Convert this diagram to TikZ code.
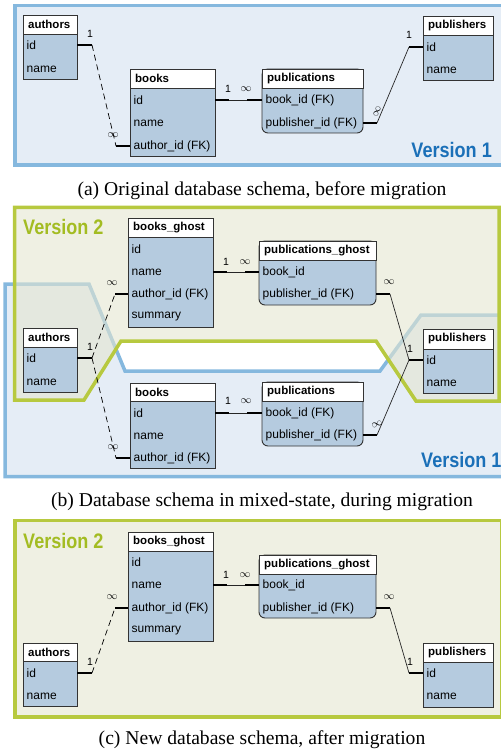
\documentclass[tikz,border=0pt]{standalone}
\usepackage{fontspec}
\setmainfont{Liberation Serif}
\newfontfamily\sansf{Liberation Sans}
\newfontfamily\condf[FakeStretch=0.86]{Liberation Sans}
\usetikzlibrary{calc}
\definecolor{bfill}{HTML}{E5EDF6}
\definecolor{bline}{HTML}{85B8DE}
\definecolor{gfill}{HTML}{EFF0E3}
\definecolor{gfillb}{HTML}{E4E6D0}
\definecolor{gline}{HTML}{B7C93F}
\definecolor{gtext}{HTML}{A3BC22}
\definecolor{btext}{HTML}{1B70B8}
\definecolor{tfill}{HTML}{B5CBDF}
\definecolor{tborder}{HTML}{333333}
\tikzset{
 tbody/.style={draw=tborder, fill=tfill, line width=0.9pt, inner sep=0pt, outer sep=0pt, anchor=north west},
 thead/.style={draw=tborder, fill=white, line width=0.9pt, inner sep=0pt, outer sep=0pt, anchor=north west},
 htext/.style={font=\sansf\bfseries\fontsize{11.5}{13}\selectfont, anchor=west, inner sep=0pt},
 rtext/.style={font=\sansf\fontsize{12}{14}\selectfont, anchor=west, inner sep=0pt},
 stub/.style={line width=2.8pt, line cap=butt},
 rel/.style={line width=0.7pt, draw=black!85},
 drel/.style={line width=0.7pt, dash pattern=on 6pt off 4pt},
 card/.style={font=\sansf\fontsize{10.5}{12}\selectfont, inner sep=0pt},
 captxt/.style={font=\fontsize{19.6}{22}\selectfont, inner sep=0pt},
 vlab/.style={font=\condf\bfseries\fontsize{21}{24}\selectfont, inner sep=0pt},
 frameb/.style={line width=3.5pt, draw=bline, fill=bfill},
 frameg/.style={line width=3.5pt, draw=gline, fill=gfill},
 rnd/.style={rounded corners=6pt}
}
% #1 name, #2 x1, #3 x2, #4 header top, #5 header bottom, #6 body bottom, #7 title, #8 body style
\newcommand{\dbtab}[8]{%
 \node[tbody,#8,minimum width={(#3-#2)*1pt},minimum height={(#6-#4)*1pt}] (#1-b) at (#2,#4) {};
 \node[thead,minimum width={(#3-#2)*1pt},minimum height={(#5-#4)*1pt}] (#1-h) at (#2,#4) {};
 \node[htext] (#1-t) at ({#2+5},{(#4+#5)/2}) {#7};
}
% #1 node name, #2 x1, #3 y, #4 text
\newcommand{\dbrow}[4]{\node[rtext] (#1) at ({#2+3.5},#3) {#4};}
\begin{document}
\begin{tikzpicture}[x=1pt,y=-1pt]
\useasboundingbox (0,0) rectangle (500,751);
% ================= (a) =================
\draw[frameb] (15,5.5) rectangle (508,165);
\node[vlab, text=btext, anchor=east] (a-v1) at (492,149.5) {Version 1};
\node[captxt] (a-cap) at (262,191) {(a) Original database schema, before migration};
% connectors
\coordinate (a-c1) at (92,45); \coordinate (a-c2) at (116,146);
\coordinate (a-c3) at (229,100); \coordinate (a-c4) at (247,100);
\coordinate (a-c5) at (377,123); \coordinate (a-c6) at (409,47);
% tables
\dbtab{a-au}{23}{77}{15}{34}{79}{authors}{}
\dbrow{a-au-id}{23}{45}{id}
\dbrow{a-au-nm}{23}{69}{name}
\dbtab{a-bk}{130}{215}{69}{88}{156}{books}{}
\dbrow{a-bk-id}{130}{100}{id}
\dbrow{a-bk-nm}{130}{123}{name}
\dbrow{a-bk-ai}{130}{146}{author\_id (FK)}
\dbtab{a-pu}{262}{363}{69}{88}{133}{publications}{rnd}
\dbrow{a-pu-bi}{262}{100}{book\_id (FK)}
\dbrow{a-pu-pi}{262}{123}{publisher\_id (FK)}
\dbtab{a-pb}{423}{493}{16}{35}{80}{publishers}{}
\dbrow{a-pb-id}{423}{47}{id}
\dbrow{a-pb-nm}{423}{70}{name}
\draw[stub] (a-au-b.east |- a-au-id) -- (a-c1);
\draw[drel] (a-c1) -- (a-c2);
\draw[stub] (a-c2) -- (a-bk-b.west |- a-bk-ai);
\draw[stub] (a-bk-b.east |- a-bk-id) -- (a-c3);
\draw[rel] (a-c3) -- (a-c4);
\draw[stub] (a-c4) -- (a-pu-b.west |- a-pu-bi);
\draw[stub] (a-pu-b.east |- a-pu-pi) -- (a-c5);
\draw[rel] (a-c5) -- (a-c6);
\draw[stub] (a-c6) -- (a-pb-b.west |- a-pb-id);
\node[card] (a-l1) at (90,34) {1};
\node[card] (a-l2) at (113,135) {$\infty$};
\node[card] (a-l3) at (228,89) {1};
\node[card] (a-l4) at (246,89) {$\infty$};
\node[card] (a-l5) at (409,35) {1};
\node[card, rotate=67] (a-l6) at (377,112) {$\infty$};
% ================= (b) =================
\draw[frameb] (5,284) -- (89,284) -- (125,371) -- (380,371) -- (421,315) -- (508,315) -- (508,476.5) -- (5,476.5) -- cycle;
\draw[line width=3.5pt, draw=gline, fill=gfillb, fill opacity=0.6] (14.5,207.5) -- (499,207.5) -- (499,401) -- (416,401) -- (376,341) -- (121,341) -- (84,400) -- (14.5,400) -- cycle;
\node[vlab, text=gtext, anchor=west] (b-v2) at (23,226.5) {Version 2};
\node[vlab, text=btext, anchor=west] (b-v1) at (421,459.5) {Version 1};
\node[captxt] (b-cap) at (262,502) {(b) Database schema in mixed-state, during migration};
\coordinate (b-c1) at (92,358);
\coordinate (b-c2) at (115,294); \coordinate (b-c3) at (116,458);
\coordinate (b-c4) at (227,272); \coordinate (b-c5) at (245,272);
\coordinate (b-c6) at (229,413); \coordinate (b-c7) at (247,413);
\coordinate (b-c8) at (390,294); \coordinate (b-c9) at (409,360);
\coordinate (b-c10) at (377,435);
\dbtab{b-bg}{128}{213}{218}{237}{327}{books\_ghost}{}
\dbrow{b-bg-id}{128}{249}{id}
\dbrow{b-bg-nm}{128}{272}{name}
\dbrow{b-bg-ai}{128}{294}{author\_id (FK)}
\dbrow{b-bg-su}{128}{317}{summary}
\dbtab{b-au}{23}{77}{328}{347}{392}{authors}{}
\dbrow{b-au-id}{23}{358}{id}
\dbrow{b-au-nm}{23}{382}{name}
\dbtab{b-bk}{130}{215}{383}{401}{468}{books}{}
\dbrow{b-bk-id}{130}{413}{id}
\dbrow{b-bk-nm}{130}{436}{name}
\dbrow{b-bk-ai}{130}{458}{author\_id (FK)}
\dbtab{b-pg}{259}{376}{241}{260}{305}{publications\_ghost}{rnd}
\dbrow{b-pg-bi}{259}{272}{book\_id}
\dbrow{b-pg-pi}{259}{294}{publisher\_id (FK)}
\dbtab{b-pu}{262}{363}{382}{401}{446}{publications}{rnd}
\dbrow{b-pu-bi}{262}{413}{book\_id (FK)}
\dbrow{b-pu-pi}{262}{435}{publisher\_id (FK)}
\dbtab{b-pb}{423}{493}{329}{349}{393}{publishers}{}
\dbrow{b-pb-id}{423}{360}{id}
\dbrow{b-pb-nm}{423}{383}{name}
\draw[stub] (b-au-b.east |- b-au-id) -- (b-c1);
\draw[drel] (b-c1) -- (b-c2);
\draw[drel] (b-c1) -- (b-c3);
\draw[stub] (b-c2) -- (b-bg-b.west |- b-bg-ai);
\draw[stub] (b-c3) -- (b-bk-b.west |- b-bk-ai);
\draw[stub] (b-bg-b.east |- b-bg-nm) -- (b-c4);
\draw[rel] (b-c4) -- (b-c5);
\draw[stub] (b-c5) -- (b-pg-b.west |- b-pg-bi);
\draw[stub] (b-bk-b.east |- b-bk-id) -- (b-c6);
\draw[rel] (b-c6) -- (b-c7);
\draw[stub] (b-c7) -- (b-pu-b.west |- b-pu-bi);
\draw[stub] (b-pg-b.east |- b-pg-pi) -- (b-c8);
\draw[rel] (b-c8) -- (b-c9);
\draw[stub] (b-pu-b.east |- b-pu-pi) -- (b-c10);
\draw[rel] (b-c10) -- (b-c9);
\draw[stub] (b-c9) -- (b-pb-b.west |- b-pb-id);
\node[card] (b-l1) at (90,347) {1};
\node[card] (b-l2) at (112,283) {$\infty$};
\node[card] (b-l3) at (113,447) {$\infty$};
\node[card] (b-l4) at (226,262) {1};
\node[card] (b-l5) at (245,262) {$\infty$};
\node[card] (b-l6) at (228,401) {1};
\node[card] (b-l7) at (246,401) {$\infty$};
\node[card] (b-l8) at (389,282) {$\infty$};
\node[card] (b-l9) at (410,349) {1};
\node[card, rotate=20] (b-l10) at (377,424) {$\infty$};
% ================= (c) =================
\draw[frameg] (15,520.5) rectangle (502,717);
\node[vlab, text=gtext, anchor=west] (c-v2) at (23,540.5) {Version 2};
\node[captxt] (c-cap) at (262,740) {(c) New database schema, after migration};
\coordinate (c-c1) at (92,673); \coordinate (c-c2) at (115,608);
\coordinate (c-c4) at (227,585); \coordinate (c-c5) at (245,585);
\coordinate (c-c8) at (390,608); \coordinate (c-c9) at (409,673);
\dbtab{c-bg}{128}{213}{532}{551}{641}{books\_ghost}{}
\dbrow{c-bg-id}{128}{562}{id}
\dbrow{c-bg-nm}{128}{585}{name}
\dbrow{c-bg-ai}{128}{608}{author\_id (FK)}
\dbrow{c-bg-su}{128}{631}{summary}
\dbtab{c-au}{23}{77}{643}{661}{706}{authors}{}
\dbrow{c-au-id}{23}{673}{id}
\dbrow{c-au-nm}{23}{696}{name}
\dbtab{c-pg}{259}{376}{555}{574}{618}{publications\_ghost}{rnd}
\dbrow{c-pg-bi}{259}{585}{book\_id}
\dbrow{c-pg-pi}{259}{608}{publisher\_id (FK)}
\dbtab{c-pb}{423}{493}{643}{662}{707}{publishers}{}
\dbrow{c-pb-id}{423}{673}{id}
\dbrow{c-pb-nm}{423}{696}{name}
\draw[stub] (c-au-b.east |- c-au-id) -- (c-c1);
\draw[drel] (c-c1) -- (c-c2);
\draw[stub] (c-c2) -- (c-bg-b.west |- c-bg-ai);
\draw[stub] (c-bg-b.east |- c-bg-nm) -- (c-c4);
\draw[rel] (c-c4) -- (c-c5);
\draw[stub] (c-c5) -- (c-pg-b.west |- c-pg-bi);
\draw[stub] (c-pg-b.east |- c-pg-pi) -- (c-c8);
\draw[rel] (c-c8) -- (c-c9);
\draw[stub] (c-c9) -- (c-pb-b.west |- c-pb-id);
\node[card] (c-l1) at (90,662) {1};
\node[card] (c-l2) at (112,597) {$\infty$};
\node[card] (c-l4) at (226,575) {1};
\node[card] (c-l5) at (245,575) {$\infty$};
\node[card] (c-l8) at (389,597) {$\infty$};
\node[card] (c-l9) at (410,662) {1};
\end{tikzpicture}
\end{document}
